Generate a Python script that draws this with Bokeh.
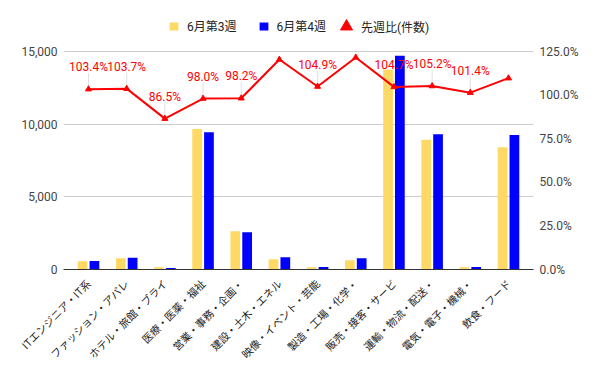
from math import pi
from bokeh.plotting import figure
from bokeh.models import (ColumnDataSource, FactorRange, Range1d, LinearAxis, FixedTicker,
                          NumeralTickFormatter, PrintfTickFormatter, Legend, LegendItem)
from bokeh.transform import dodge
from bokeh.embed import file_html
from bokeh.resources import INLINE
from bokeh.core.properties import value

categories = ["ITエンジニア・IT系", "ファッション・アパレ", "ホテル・旅館・ブライ", "医療・医薬・福祉",
              "営業・事務・企画・", "建設・土木・エネル", "映像・イベント・芸能", "製造・工場・化学・",
              "販売・接客・サービ", "運輸・物流・配送・", "電気・電子・機械・", "飲食・フード"]
week3 = [570, 780, 160, 9660, 2640, 710, 160, 640, 13760, 8920, 160, 8420]
week4 = [590, 800, 95, 9450, 2570, 850, 168, 780, 14700, 9310, 165, 9250]
ratio = [103.4, 103.7, 86.5, 98.0, 98.2, 120.4, 104.9, 121.6, 104.7, 105.2, 101.4, 109.7]
label_shown = [True, True, True, True, True, False, True, False, True, True, True, False]
left_ticks = [0, 5000, 10000, 15000]
right_ticks = [0, 25, 50, 75, 100, 125]

YELLOW = "#FFD966"
BLUE = "#0000FF"
RED = "#FF0000"
FONT = "Roboto"
CJK = "Noto Sans CJK JP"

# frame extends above the top gridline to hold the legend
FRAME_W, FRAME_H = 470, 257
PX_TOP_TICK = 218.0          # pixel height from 0 to the top tick
left_end = left_ticks[-1] * FRAME_H / PX_TOP_TICK
right_end = right_ticks[-1] * FRAME_H / PX_TOP_TICK

src = ColumnDataSource(dict(cat=categories, w3=week3, w4=week4, ratio=ratio))

lead_px = 16.0
px_per_unit = PX_TOP_TICK / right_ticks[-1]
lab_cat = [c for c, s in zip(categories, label_shown) if s]
lab_r = [r for r, s in zip(ratio, label_shown) if s]
lab_txt = ["%.1f%%" % r for r in lab_r]
lab_top = [r + lead_px / px_per_unit for r in lab_r]
src_lab = ColumnDataSource(dict(cat=lab_cat, ratio=lab_r, label=lab_txt, top=lab_top))

p = figure(frame_width=FRAME_W, frame_height=FRAME_H, output_backend="svg", toolbar_location=None,
           x_range=FactorRange(*categories, range_padding=0.155, range_padding_units="absolute"),
           y_range=Range1d(0, left_end),
           min_border_left=63, min_border_right=67, min_border_top=12, min_border_bottom=102)
p.outline_line_color = None
p.background_fill_color = "white"
p.border_fill_color = "white"
p.extra_y_ranges = {"pct": Range1d(0, right_end)}

r1 = p.vbar(x=dodge("cat", -0.155, range=p.x_range), top="w3", width=0.255, source=src,
            fill_color=YELLOW, line_color=None)
r2 = p.vbar(x=dodge("cat", 0.155, range=p.x_range), top="w4", width=0.255, source=src,
            fill_color=BLUE, line_color=None)

p.segment(x0="cat", y0="ratio", x1="cat", y1="top", source=src_lab, y_range_name="pct",
          line_color="#e0e0e0", line_width=1)
p.line(x="cat", y="ratio", source=src, y_range_name="pct", line_color=RED, line_width=2)
r3 = p.scatter(x="cat", y="ratio", source=src, y_range_name="pct", marker="triangle",
               size=6, fill_color=RED, line_color=RED)
p.text(x="cat", y="ratio", text="label", source=src_lab, y_range_name="pct",
       text_font=value(FONT), text_font_size=value("12px"), text_color=RED,
       text_align="center", text_baseline="middle", y_offset=-22)

# axes
p.xgrid.grid_line_color = None
p.yaxis.ticker = FixedTicker(ticks=left_ticks)
p.yaxis.formatter = NumeralTickFormatter(format="0,0")
p.ygrid.grid_line_color = "#cccccc"
for ax in p.yaxis:
    ax.axis_line_color = None
    ax.major_tick_line_color = None
    ax.minor_tick_line_color = None
    ax.major_tick_out = 0
    ax.major_tick_in = 0
    ax.major_label_text_font = FONT
    ax.major_label_text_font_size = "12px"
    ax.major_label_text_color = "#444444"
    ax.major_label_standoff = 6

ra = LinearAxis(y_range_name="pct", ticker=FixedTicker(ticks=right_ticks),
                formatter=PrintfTickFormatter(format="%.1f%%"))
ra.axis_line_color = None
ra.major_tick_line_color = None
ra.minor_tick_line_color = None
ra.major_tick_out = 0
ra.major_tick_in = 0
ra.major_label_text_font = FONT
ra.major_label_text_font_size = "12px"
ra.major_label_text_color = "#444444"
ra.major_label_standoff = 6
p.add_layout(ra, "right")

xa = p.xaxis[0]
xa.major_label_orientation = pi / 4
xa.major_label_text_font = CJK
xa.major_label_text_font_size = "10.5px"
xa.major_label_text_color = "#222222"
xa.major_tick_line_color = None
xa.major_tick_out = 0
xa.major_tick_in = 0
xa.axis_line_color = "#333333"
xa.major_label_standoff = 12

leg1 = Legend(items=[LegendItem(label="6月第3週", renderers=[r1]),
                     LegendItem(label="6月第4週", renderers=[r2])],
              orientation="horizontal", location=(105, 235),
              glyph_width=11, glyph_height=10, label_standoff=8, spacing=21,
              padding=0, margin=0, border_line_color=None, background_fill_alpha=0,
              label_text_font=FONT + ", " + CJK, label_text_font_size="12px",
              label_text_color="#222222", label_height=10)
leg2 = Legend(items=[LegendItem(label="先週比(件数)", renderers=[r3])],
              orientation="horizontal", location=(268, 228),
              glyph_width=30, glyph_height=30, label_standoff=0,
              padding=0, margin=0, border_line_color=None, background_fill_alpha=0,
              label_text_font=FONT + ", " + CJK, label_text_font_size="12px",
              label_text_color="#222222", label_height=30)
p.add_layout(leg1)
p.add_layout(leg2)

open("out.html", "w").write(file_html(p, INLINE))
